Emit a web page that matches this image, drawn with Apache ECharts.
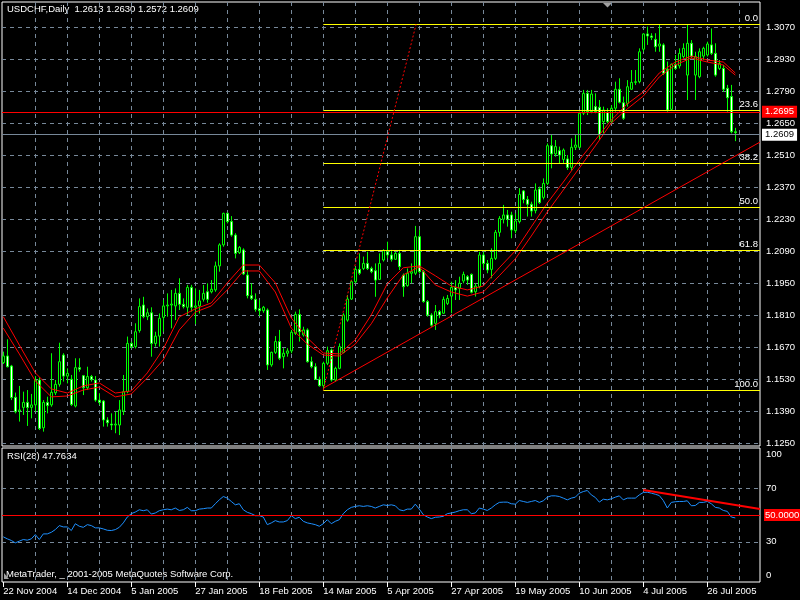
<!DOCTYPE html>
<html><head><meta charset="utf-8">
<script src="https://cdn.jsdelivr.net/npm/echarts@6/dist/echarts.min.js"></script>
<style>html,body{margin:0;padding:0;background:#000}#c{width:800px;height:600px}</style>
</head><body><div id="c"></div>
<script>
// ---------------- DATA ----------------
const symbolName = 'USDCHF,Daily';
const lastQuote = [1.2613, 1.2630, 1.2572, 1.2609];
const rsiPeriod = 28;
const rsiLast = 47.7634;
const copyrightText = 'MetaTrader, _ 2001-2005 MetaQuotes Software Corp.';

// x tick labels (one every 16 daily bars, starting at bar 0 = 22 Nov 2004)
const dateTicks = ['22 Nov 2004','14 Dec 2004','5 Jan 2005','27 Jan 2005','18 Feb 2005','14 Mar 2005',
  '5 Apr 2005','27 Apr 2005','19 May 2005','10 Jun 2005','4 Jul 2005','26 Jul 2005'];

const opens = [1.1603,1.1632,1.1588,1.1451,1.1391,1.1407,1.1429,1.1407,1.1418,1.1527,
1.1318,1.1429,1.1418,1.1471,1.1508,1.1636,1.1544,1.1530,1.1413,1.1581,
1.1546,1.1493,1.1542,1.1527,1.1439,1.1435,1.1352,1.1334,1.1330,1.1330,
1.1391,1.1476,1.1687,1.1673,1.1743,1.1855,1.1804,1.1821,1.1687,1.1719,
1.1801,1.1851,1.1855,1.1851,1.1906,1.1858,1.1845,1.1932,1.1845,1.1851,
1.1880,1.1913,1.1913,1.1921,1.2026,1.2118,1.2256,1.2220,1.2161,1.2084,
1.2096,1.1986,1.1896,1.1880,1.1839,1.1830,1.1833,1.1593,1.1648,1.1695,
1.1629,1.1644,1.1654,1.1731,1.1814,1.1724,1.1746,1.1607,1.1585,1.1530,
1.1502,1.1600,1.1658,1.1527,1.1578,1.1648,1.1789,1.1881,1.1957,1.2011,
1.2015,1.2037,1.2015,1.2005,1.1967,1.2052,1.2088,1.2074,1.2055,1.2081,
1.1986,1.1940,1.1994,1.1994,1.2154,1.2001,1.1870,1.1811,1.1775,1.1826,
1.1819,1.1862,1.1894,1.1932,1.1928,1.1960,1.1979,1.1989,1.1913,1.1935,
1.2074,1.2037,1.2011,1.2059,1.2173,1.2230,1.2249,1.2249,1.2180,1.2220,
1.2354,1.2317,1.2296,1.2268,1.2363,1.2326,1.2387,1.2552,1.2516,1.2530,
1.2492,1.2494,1.2457,1.2545,1.2545,1.2694,1.2781,1.2701,1.2723,1.2720,
1.2657,1.2697,1.2657,1.2716,1.2799,1.2740,1.2737,1.2799,1.2829,1.2832,
1.2974,1.3041,1.3032,1.3017,1.2988,1.2993,1.2886,1.2711,1.2908,1.2901,
1.2942,1.2861,1.3000,1.2861,1.2854,1.2944,1.2949,1.2993,1.2956,1.2890,
1.2890,1.2803,1.2767,1.2613];
const highs = [1.1651,1.1705,1.1593,1.1472,1.1501,1.1476,1.1483,1.1466,1.1544,1.1539,
1.1439,1.1454,1.1644,1.1527,1.1690,1.1644,1.1578,1.1549,1.1622,1.1622,
1.1549,1.1585,1.1549,1.1544,1.1469,1.1439,1.1364,1.1381,1.1388,1.1439,
1.1549,1.1717,1.1695,1.1775,1.1884,1.1891,1.1840,1.1845,1.1738,1.1818,
1.1877,1.1906,1.1921,1.1928,1.1972,1.1884,1.1943,1.1943,1.1928,1.1921,
1.1943,1.1950,1.1964,1.2045,1.2125,1.2259,1.2259,1.2244,1.2169,1.2113,
1.2103,1.2008,1.1950,1.1906,1.1877,1.1851,1.1840,1.1651,1.1719,1.1746,
1.1666,1.1666,1.1746,1.1826,1.1836,1.1760,1.1753,1.1629,1.1600,1.1542,
1.1607,1.1673,1.1665,1.1585,1.1687,1.1819,1.1899,1.1964,1.2023,1.2081,
1.2067,1.2088,1.2023,1.2037,1.2081,1.2099,1.2132,1.2096,1.2088,1.2096,
1.1993,1.2015,1.2037,1.2201,1.2183,1.2008,1.1877,1.1819,1.1855,1.1833,
1.1892,1.1899,1.1957,1.1964,1.1979,1.2001,1.1986,1.1993,1.1950,1.2088,
1.2088,1.2052,1.2103,1.2183,1.2244,1.2293,1.2271,1.2263,1.2256,1.2366,
1.2358,1.2332,1.2307,1.2387,1.2373,1.2409,1.2562,1.2599,1.2577,1.2548,
1.2540,1.2511,1.2584,1.2599,1.2701,1.2796,1.2796,1.2796,1.2781,1.2752,
1.2723,1.2716,1.2730,1.2832,1.2847,1.2767,1.2839,1.2883,1.2883,1.2978,
1.3044,1.3073,1.3044,1.3044,1.3080,1.3000,1.2920,1.2912,1.2949,1.2978,
1.3000,1.3080,1.3014,1.2963,1.2978,1.2985,1.3007,1.3065,1.3000,1.2927,
1.2905,1.2818,1.2818,1.2630];
const lows = [1.1597,1.1582,1.1439,1.1381,1.1345,1.1374,1.1326,1.1359,1.1388,1.1308,
1.1301,1.1381,1.1410,1.1461,1.1498,1.1520,1.1512,1.1413,1.1407,1.1563,
1.1461,1.1483,1.1520,1.1432,1.1418,1.1323,1.1323,1.1308,1.1294,1.1286,
1.1374,1.1469,1.1665,1.1665,1.1734,1.1797,1.1789,1.1629,1.1673,1.1673,
1.1738,1.1804,1.1753,1.1789,1.1833,1.1840,1.1811,1.1826,1.1772,1.1818,
1.1870,1.1865,1.1906,1.1913,1.2001,1.2110,1.2212,1.2154,1.2059,1.2078,
1.1986,1.1884,1.1877,1.1826,1.1807,1.1821,1.1571,1.1585,1.1641,1.1614,
1.1578,1.1629,1.1644,1.1724,1.1695,1.1717,1.1603,1.1578,1.1527,1.1498,
1.1490,1.1592,1.1520,1.1520,1.1574,1.1644,1.1782,1.1877,1.1950,1.1986,
1.2008,1.2008,1.1994,1.1891,1.1964,1.2045,1.2059,1.2045,1.2052,1.2008,
1.1891,1.1935,1.1950,1.1986,1.1993,1.1865,1.1804,1.1760,1.1746,1.1797,
1.1816,1.1855,1.1819,1.1877,1.1877,1.1950,1.1943,1.1906,1.1892,1.1928,
1.2016,1.1994,1.1972,1.2052,1.2154,1.2212,1.2198,1.2147,1.2169,1.2212,
1.2300,1.2242,1.2242,1.2256,1.2297,1.2317,1.2380,1.2453,1.2504,1.2475,
1.2475,1.2446,1.2443,1.2533,1.2540,1.2686,1.2686,1.2694,1.2694,1.2577,
1.2606,1.2650,1.2650,1.2701,1.2737,1.2665,1.2723,1.2796,1.2818,1.2825,
1.2963,1.2993,1.3014,1.2963,1.2963,1.2861,1.2701,1.2705,1.2883,1.2890,
1.2934,1.2752,1.2934,1.2752,1.2847,1.2927,1.2942,1.2949,1.2854,1.2883,
1.2788,1.2701,1.2606,1.2572];
const closes = [1.1632,1.1585,1.1450,1.1388,1.1396,1.1429,1.1407,1.1418,1.1527,1.1315,
1.1429,1.1415,1.1473,1.1508,1.1607,1.1544,1.1556,1.1420,1.1581,1.1574,
1.1493,1.1542,1.1530,1.1439,1.1429,1.1352,1.1340,1.1330,1.1334,1.1396,
1.1476,1.1687,1.1673,1.1738,1.1848,1.1804,1.1821,1.1687,1.1719,1.1797,
1.1851,1.1855,1.1859,1.1906,1.1858,1.1848,1.1932,1.1845,1.1851,1.1873,
1.1906,1.1880,1.1924,1.2026,1.2118,1.2256,1.2220,1.2161,1.2081,1.2107,
1.1991,1.1896,1.1884,1.1836,1.1830,1.1845,1.1593,1.1648,1.1695,1.1622,
1.1644,1.1654,1.1736,1.1814,1.1738,1.1746,1.1607,1.1585,1.1530,1.1502,
1.1600,1.1655,1.1527,1.1578,1.1673,1.1811,1.1881,1.1957,1.2011,1.1994,
1.2037,1.2015,1.2001,1.1964,1.2037,1.2093,1.2074,1.2055,1.2081,1.2023,
1.1935,1.1994,1.2001,1.2154,1.2001,1.1870,1.1811,1.1767,1.1826,1.1811,
1.1880,1.1884,1.1932,1.1921,1.1950,1.1989,1.1964,1.1911,1.1938,1.2074,
1.2037,1.2008,1.2059,1.2173,1.2234,1.2249,1.2230,1.2183,1.2223,1.2339,
1.2317,1.2296,1.2266,1.2358,1.2303,1.2387,1.2552,1.2516,1.2548,1.2511,
1.2533,1.2457,1.2545,1.2555,1.2694,1.2781,1.2701,1.2778,1.2701,1.2599,
1.2708,1.2657,1.2716,1.2799,1.2742,1.2672,1.2810,1.2829,1.2832,1.2963,
1.3041,1.3032,1.3026,1.2985,1.2997,1.2869,1.2708,1.2908,1.2890,1.2956,
1.2978,1.3000,1.2942,1.2942,1.2963,1.2978,1.2997,1.2956,1.2861,1.2912,
1.2799,1.2762,1.2613,1.2609];

// moving averages at these bar indices
const maIndex = [0,4,8,12,16,20,24,28,32,36,40,44,48,52,56,60,64,68,72,76,80,84,88,92,96,100,
  104,108,112,116,120,124,128,132,136,140,144,148,152,156,160,164,168,172,176,180,183];
const maUpper = [1.1804,1.1680,1.1558,1.1488,1.1470,1.1501,1.1514,1.1470,1.1479,1.1558,1.1663,1.1803,
  1.1838,1.1864,1.1952,1.2030,1.2030,1.1952,1.1798,1.1711,1.1645,1.1641,1.1703,1.1812,1.1948,1.2018,
  1.2026,1.1983,1.1938,1.1921,1.1938,1.2018,1.2092,1.2197,1.2301,1.2393,1.2489,1.2577,1.2664,1.2735,
  1.2787,1.2870,1.2918,1.2944,1.2927,1.2918,1.2870];
const maLower = [1.1754,1.1641,1.1523,1.1453,1.1457,1.1483,1.1496,1.1453,1.1466,1.1536,1.1615,1.1746,
  1.1824,1.1851,1.1921,1.2004,1.2004,1.1912,1.1754,1.1684,1.1636,1.1632,1.1684,1.1773,1.1886,1.1987,
  1.2022,1.1943,1.1912,1.1894,1.1912,1.1983,1.2057,1.2157,1.2262,1.2358,1.2454,1.2551,1.2651,1.2713,
  1.2769,1.2853,1.2905,1.2936,1.2918,1.2905,1.2861];

const rsi = [33.7,32.2,31.0,29.2,30.5,31.7,31.2,32.2,35.4,31.7,
35.9,35.9,37.1,39.1,42.1,41.1,41.1,38.4,43.5,41.6,
40.8,42.8,42.1,40.4,40.4,39.6,38.6,38.4,39.1,40.8,
44.1,48.5,51.0,52.2,53.9,53.2,53.9,50.7,51.5,53.2,
53.9,54.4,53.9,55.2,53.4,53.9,55.7,53.2,53.2,54.4,
54.7,55.2,55.2,58.4,61.3,63.8,62.6,60.1,57.6,58.4,
53.9,52.0,51.0,49.5,49.5,48.5,42.8,44.1,45.8,44.8,
44.8,45.8,49.5,47.3,48.3,45.3,44.1,43.5,42.8,41.6,
43.5,46.5,43.5,45.3,46.5,51.0,53.9,55.7,56.4,56.9,
56.4,56.9,56.4,55.2,56.4,57.6,57.1,57.6,56.9,53.9,
53.2,54.4,54.4,58.1,54.4,50.2,48.5,47.3,48.3,48.5,
49.0,51.0,51.5,52.2,53.2,53.9,53.9,51.0,51.5,55.2,
54.4,53.4,55.2,57.6,59.4,59.6,59.6,58.4,58.1,60.8,
60.1,59.4,60.1,60.8,59.4,60.6,63.3,64.3,64.3,63.8,
62.6,61.3,62.6,63.3,66.3,67.5,68.3,65.0,63.1,59.6,
61.8,61.3,62.1,63.3,64.3,61.3,62.6,62.6,62.6,65.0,
66.8,67.0,66.3,65.5,64.5,60.8,55.2,59.4,59.9,60.1,
60.1,60.6,56.9,57.1,59.4,59.4,60.1,58.4,55.7,55.2,
53.4,52.7,48.5,47.8];

const priceTicks = [1.1250,1.1390,1.1530,1.1670,1.1810,1.1950,1.2090,1.2230,1.2370,1.2510,1.2650,1.2790,1.2930,1.3070];
const rsiTickLabels = ['0','30','70','100'];
const rsiLevels = [30, 70];
const rsiMidLevel = 50;

// chart objects
const fibLabels = ['0.0','23.6','38.2','50.0','61.8','100.0'];
const fibPrices = [1.3083,1.2707,1.2475,1.2283,1.2094,1.1482];
const fibStartBar = 80;
const fibDiagonal = [[80, 1.1482], [103.2, 1.3083]];
const trendAnchors = [[80, 1.1491], [183, 1.2507]];
const rsiTrendAnchors = [[160, 68.7], [183, 57.5]];
const hLinePrice = 1.2695;
const bidPrice = 1.2609;

// ---------------- LAYOUT ----------------
const FONT = 'Liberation Sans, Arial, sans-serif';
const FS = 9.5;
const xMin = -0.325, xMax = 189.175;          // bar 0 at x=3.3, 4px per bar
const mainMin = 1.12382, mainMax = 1.31807;
const GRIDC = '#778899';
const dash = [4, 4];
const gridX = []; for (let k = 8; k < xMax; k += 8) gridX.push(k);
const labelX = dateTicks.map((_, k) => k * 16);
const rsiLabelPos = [4.7, 30, 70, 95.3];

function ray(a, b, xe) { const s = (b[1] - a[1]) / (b[0] - a[0]); return [[a[0], a[1]], [xe, a[1] + s * (xe - a[0])]]; }

const candleData = opens.map((o, i) => [i, o, closes[i], lows[i], highs[i]]);
const trend = ray(trendAnchors[0], trendAnchors[1], xMax);
const rsiTrend = ray(rsiTrendAnchors[0], rsiTrendAnchors[1], xMax);

const objLines = [];
fibPrices.forEach((p, k) => {
  objLines.push([
    { coord: [fibStartBar, p], lineStyle: { color: '#ffff00', type: 'solid', width: 1 },
      label: { show: true, position: 'insideEndTop', formatter: fibLabels[k], color: '#fff', fontSize: FS, fontFamily: FONT, distance: [2, 1] } },
    { coord: [xMax, p] }
  ]);
});
objLines.push([{ coord: fibDiagonal[0], lineStyle: { color: '#ff0000', type: [2, 2], width: 1 } }, { coord: fibDiagonal[1] }]);
objLines.push([{ coord: trend[0], lineStyle: { color: '#ff0000', type: 'solid', width: 1 } }, { coord: trend[1] }]);
objLines.push({ yAxis: hLinePrice, lineStyle: { color: '#ff0000', type: 'solid', width: 1 },
  label: { show: true, position: 'end', formatter: hLinePrice.toFixed(4), backgroundColor: '#ff0000', color: '#fff',
    padding: [1, 3, 0, 3], distance: 2, fontSize: FS, fontFamily: FONT, lineHeight: 11 } });
objLines.push({ yAxis: bidPrice, lineStyle: { color: GRIDC, type: 'solid', width: 1 },
  label: { show: true, position: 'end', formatter: bidPrice.toFixed(4), backgroundColor: '#fff', color: '#000',
    padding: [1, 3, 0, 3], distance: 2, fontSize: FS, fontFamily: FONT, lineHeight: 11 } });

const axisLabelBase = { color: '#fff', fontSize: FS, fontFamily: FONT };

const option = {
  backgroundColor: '#000',
  animation: false,
  grid: [
    { left: 2, top: 2, width: 758, height: 444, show: true, borderColor: '#fff', borderWidth: 1 },
    { left: 2, top: 448, width: 758, height: 134, show: true, borderColor: '#fff', borderWidth: 1 }
  ],
  xAxis: [
    { type: 'value', gridIndex: 0, min: xMin, max: xMax, axisLine: { show: false }, axisLabel: { show: false },
      axisTick: { show: false, customValues: gridX }, splitLine: { show: true, lineStyle: { color: GRIDC, type: dash, width: 1 } } },
    { type: 'value', gridIndex: 1, min: xMin, max: xMax, axisLine: { show: false }, axisLabel: { show: false },
      axisTick: { show: false, customValues: gridX }, splitLine: { show: true, lineStyle: { color: GRIDC, type: dash, width: 1 } } },
    { type: 'value', gridIndex: 1, position: 'bottom', min: xMin, max: xMax, axisLine: { show: false },
      axisTick: { show: true, customValues: labelX, length: 5, lineStyle: { color: '#fff' } },
      axisLabel: Object.assign({ customValues: labelX, formatter: v => dateTicks[Math.round(v / 16)], align: 'left', margin: 4 }, axisLabelBase),
      splitLine: { show: false } }
  ],
  yAxis: [
    { type: 'value', gridIndex: 0, position: 'right', min: mainMin, max: mainMax, axisLine: { show: false },
      axisTick: { show: false, customValues: priceTicks },
      axisLabel: Object.assign({ customValues: priceTicks, formatter: v => v.toFixed(4), margin: 6 }, axisLabelBase),
      splitLine: { show: true, lineStyle: { color: GRIDC, type: dash, width: 1 } } },
    { type: 'value', gridIndex: 1, position: 'right', min: 0, max: 100, axisLine: { show: false },
      axisTick: { show: false, customValues: rsiLevels },
      axisLabel: Object.assign({ customValues: rsiLabelPos, formatter: (v) => rsiTickLabels[rsiLabelPos.indexOf(v)] ?? '', margin: 6 }, axisLabelBase),
      splitLine: { show: true, lineStyle: { color: GRIDC, type: dash, width: 1 } } }
  ],
  series: [
    { type: 'candlestick', xAxisIndex: 0, yAxisIndex: 0, data: candleData, barWidth: 3, silent: true, z: 3,
      itemStyle: { color: '#000', color0: '#fff', borderColor: '#00ff00', borderColor0: '#00ff00', borderWidth: 1 } },
    { type: 'line', xAxisIndex: 0, yAxisIndex: 0, data: maIndex.map((x, k) => [x, maUpper[k]]), showSymbol: false, silent: true, z: 4,
      lineStyle: { color: '#ff0000', width: 1 },
      markLine: { silent: true, symbol: ['none', 'none'], animation: false, label: { show: false }, data: objLines } },
    { type: 'line', xAxisIndex: 0, yAxisIndex: 0, data: maIndex.map((x, k) => [x, maLower[k]]), showSymbol: false, silent: true, z: 4,
      lineStyle: { color: '#ff0000', width: 1 } },
    { type: 'line', xAxisIndex: 1, yAxisIndex: 1, data: rsi.map((v, i) => [i, v]), showSymbol: false, silent: true, z: 4,
      lineStyle: { color: '#1e90ff', width: 1 },
      markLine: { silent: true, symbol: ['none', 'none'], animation: false, label: { show: false }, data: [
        { yAxis: rsiMidLevel, lineStyle: { color: '#ff0000', type: 'solid', width: 1 },
          label: { show: true, position: 'end', formatter: rsiMidLevel.toFixed(4), backgroundColor: '#ff0000', color: '#fff',
            padding: [1, 1, 0, 1], distance: 4, fontSize: FS, fontFamily: FONT, lineHeight: 11 } },
        [{ coord: rsiTrend[0], lineStyle: { color: '#ff0000', type: 'solid', width: 2 } }, { coord: rsiTrend[1] }]
      ] } }
  ],
  graphic: [
    { type: 'text', left: 7, top: 4, style: { text: symbolName + '  ' + lastQuote.map(v => v.toFixed(4)).join(' '), fill: '#fff', font: FS + 'px ' + FONT } },
    { type: 'text', left: 7, top: 451, style: { text: 'RSI(' + rsiPeriod + ') ' + rsiLast.toFixed(4), fill: '#fff', font: FS + 'px ' + FONT } },
    { type: 'text', left: 6, top: 569, style: { text: copyrightText, fill: '#fff', font: FS + 'px ' + FONT } },
    { type: 'polygon', shape: { points: [[603, 3], [612, 3], [607.5, 7.5]] }, style: { fill: '#a0a0a0' } },
    { type: 'polygon', shape: { points: [[4, 579], [9, 579], [4, 573]] }, style: { fill: '#a0a0a0' } }
  ]
};
const chart = echarts.init(document.getElementById('c'));
chart.setOption(option);
</script></body></html>
